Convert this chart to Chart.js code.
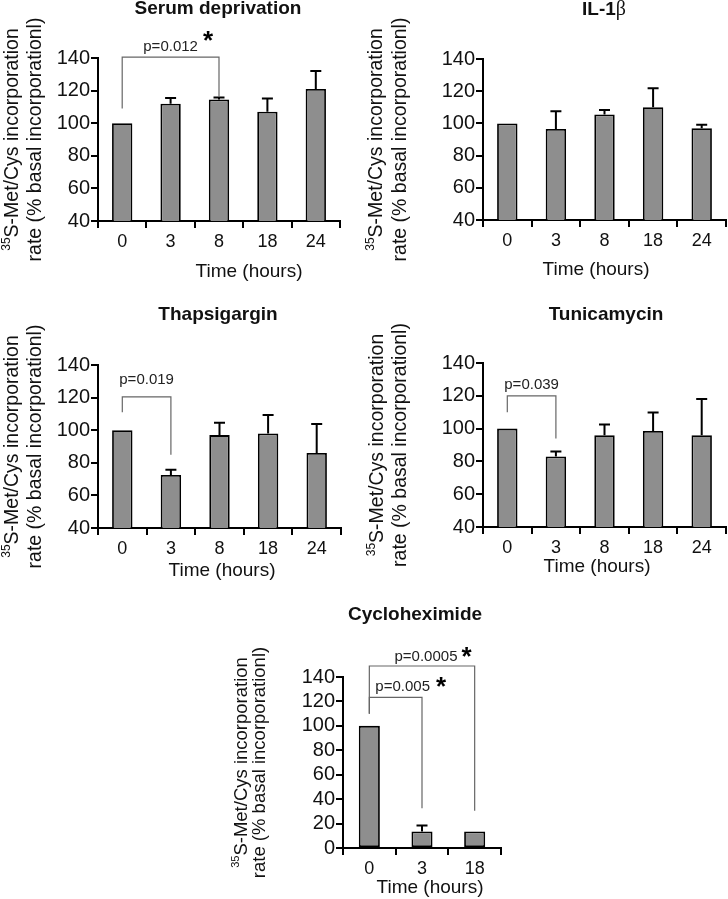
<!DOCTYPE html>
<html>
<head>
<meta charset="utf-8">
<script src="https://cdn.jsdelivr.net/npm/chart.js@4.4.0/dist/chart.umd.min.js"></script>
<style>
  body { margin: 0; background: #fff; }
  #wrap { position: relative; width: 728px; height: 899px; }
  canvas { position: absolute; }
</style>
</head>
<body>
<div id="wrap">
  <canvas id="c1" width="364" height="290" style="left:0px;top:0px"></canvas>
  <canvas id="c2" width="364" height="290" style="left:364px;top:0px"></canvas>
  <canvas id="c3" width="364" height="300" style="left:0px;top:290px"></canvas>
  <canvas id="c4" width="364" height="300" style="left:364px;top:290px"></canvas>
  <canvas id="c5" width="380" height="309" style="left:180px;top:590px"></canvas>
</div>
<script>
// time points (hours)
const hours = ['0', '3', '8', '18', '24'];
const hoursCyclo = ['0', '3', '18'];

// mean incorporation rate (% basal) and upper error (SEM)
const serumMeans = [100, 112, 114.5, 107, 121];
const serumErr = [0, 3.5, 1.2, 8.2, 11];
const il1Means = [100, 96.5, 105.5, 110, 97];
const il1Err = [0, 11, 2.8, 11.8, 2.2];
const thapsMeans = [100, 72.5, 97, 98, 86];
const thapsErr = [0, 3.3, 7.5, 11.3, 17.8];
const tunicMeans = [100, 83, 96, 98.5, 96];
const tunicErr = [0, 3, 6.5, 11.3, 22];
const cycloMeans = [100, 13.5, 13.5];
const cycloErr = [0, 5, 0];

const yTicks = [40, 60, 80, 100, 120, 140];
const yTicksCyclo = [0, 20, 40, 60, 80, 100, 120, 140];

const FONT = '"Liberation Sans", Arial, sans-serif';
const INK = '#111';

function boldTitle(t) {
  return [{ text: t, font: 'bold 19px ' + FONT }];
}

function yTitleLines(size) {
  return [
    [{ text: '35', font: Math.round(size * 0.62) + 'px ' + FONT, dy: -size * 0.3 },
     { text: 'S-Met/Cys incorporation', font: size + 'px ' + FONT }],
    [{ text: 'rate (% basal incorporationl)', font: size + 'px ' + FONT }]
  ];
}

const panels = [
  {
    id: 'c1', w: 364, h: 290, area: { l: 98, t: 58, r: 340, b: 221 },
    labels: hours, means: serumMeans, errs: serumErr, ticks: yTicks,
    title: boldTitle('Serum deprivation'), titlePos: [218, 9],
    xTitlePos: [249, 272], yTitleX: [12.5, 36], yFont: 19.5,
    brackets: [{ from: 0, to: 2, top: 140.5, fromY: 109, toY: 116, label: 'p=0.012', dx: 0, dy: 10, star: [9, -10] }]
  },
  {
    id: 'c2', w: 364, h: 290, area: { l: 119, t: 59, r: 362, b: 220 },
    labels: hours, means: il1Means, errs: il1Err, ticks: yTicks,
    title: [{ text: 'IL-1', font: 'bold 19px ' + FONT }, { text: 'β', font: '20px "Liberation Serif", serif' }],
    titlePos: [240, 10],
    xTitlePos: [232, 270], yTitleX: [13, 37], yFont: 19.5,
    brackets: []
  },
  {
    id: 'c3', w: 364, h: 300, area: { l: 98, t: 75, r: 341, b: 238 },
    labels: hours, means: thapsMeans, errs: thapsErr, ticks: yTicks,
    title: boldTitle('Thapsigargin'), titlePos: [218, 25],
    xTitlePos: [222, 281], yTitleX: [13, 36], yFont: 19.5,
    brackets: [{ from: 0, to: 1, top: 120.4, fromY: 111, toY: 85, label: 'p=0.019', dx: 0, dy: 17 }]
  },
  {
    id: 'c4', w: 364, h: 300, area: { l: 119, t: 73, r: 362, b: 237 },
    labels: hours, means: tunicMeans, errs: tunicErr, ticks: yTicks,
    title: boldTitle('Tunicamycin'), titlePos: [242, 25],
    xTitlePos: [233, 277], yTitleX: [14, 37], yFont: 19.5,
    brackets: [{ from: 0, to: 1, top: 120, fromY: 110, toY: 94, label: 'p=0.039', dx: 0, dy: 11 }]
  },
  {
    id: 'c5', w: 380, h: 309, area: { l: 163, t: 87, r: 321, b: 258 },
    labels: hoursCyclo, means: cycloMeans, errs: cycloErr, ticks: yTicksCyclo,
    title: boldTitle('Cycloheximide'), titlePos: [235, 25],
    xTitlePos: [250, 298], yTitleX: [62, 80], yFont: 18.5,
    brackets: [
      { from: 0, to: 1, top: 123.4, fromY: 110, toY: 32.5, label: 'p=0.005', dx: 7, dy: 10, star: [10, -4] },
      { from: 0, to: 2, top: 149, fromY: 110, toY: 30.5, label: 'p=0.0005', dx: 4, dy: 9, star: [8, -4] }
    ]
  }
];

// draws a row of text runs centred on (x, y)
function drawRuns(ctx, runs, x, y) {
  let total = 0;
  runs.forEach(r => { ctx.font = r.font; r.w = ctx.measureText(r.text).width; total += r.w; });
  let cx = x - total / 2;
  ctx.textAlign = 'left';
  ctx.textBaseline = 'middle';
  runs.forEach(r => {
    ctx.font = r.font;
    ctx.fillText(r.text, cx, y + (r.dy || 0));
    cx += r.w;
  });
  return total;
}

function makeOverlay(p) {
  return {
    id: 'overlay',
    afterDatasetsDraw(chart) {
      const ctx = chart.ctx;
      const ys = chart.scales.y;
      const meta = chart.getDatasetMeta(0);
      const area = chart.chartArea;

      ctx.save();
      // error bars (upper only)
      ctx.strokeStyle = '#000';
      ctx.lineWidth = 2;
      p.errs.forEach((e, i) => {
        if (!e) return;
        const bx = meta.data[i].x;
        const y0 = ys.getPixelForValue(p.means[i]);
        const y1 = ys.getPixelForValue(p.means[i] + e);
        ctx.beginPath();
        ctx.moveTo(bx, y0);
        ctx.lineTo(bx, y1);
        ctx.moveTo(bx - 5.5, y1);
        ctx.lineTo(bx + 5.5, y1);
        ctx.stroke();
      });

      // significance brackets
      p.brackets.forEach(b => {
        const x0 = meta.data[b.from].x;
        const x1 = meta.data[b.to].x;
        const yt = ys.getPixelForValue(b.top);
        ctx.strokeStyle = '#666';
        ctx.lineWidth = 1.2;
        ctx.beginPath();
        ctx.moveTo(x0, ys.getPixelForValue(b.fromY));
        ctx.lineTo(x0, yt);
        ctx.lineTo(x1, yt);
        ctx.lineTo(x1, ys.getPixelForValue(b.toY));
        ctx.stroke();
        ctx.fillStyle = '#222';
        const lx = (x0 + x1) / 2 + b.dx;
        const ly = yt - b.dy;
        const w = drawRuns(ctx, [{ text: b.label, font: '15px ' + FONT }], lx, ly);
        if (b.star) {
          ctx.font = 'bold 26px ' + FONT;
          ctx.textAlign = 'left';
          ctx.textBaseline = 'middle';
          ctx.fillStyle = '#000';
          ctx.fillText('*', lx + w / 2 + b.star[0] - 4, ly + b.star[1] + 5);
        }
      });

      // titles
      ctx.fillStyle = INK;
      drawRuns(ctx, p.title, p.titlePos[0], p.titlePos[1]);
      drawRuns(ctx, [{ text: 'Time (hours)', font: '19px ' + FONT }], p.xTitlePos[0], p.xTitlePos[1]);
      const cy = (area.top + area.bottom) / 2;
      yTitleLines(p.yFont).forEach((runs, k) => {
        ctx.save();
        ctx.translate(p.yTitleX[k], cy);
        ctx.rotate(-Math.PI / 2);
        drawRuns(ctx, runs, 0, 0);
        ctx.restore();
      });
      ctx.restore();
    }
  };
}

panels.forEach(p => {
  const axisStyle = {
    border: { display: true, color: '#000', width: 2 },
    grid: { drawOnChartArea: false, drawTicks: true, tickLength: 7, color: '#000', lineWidth: 2 }
  };
  new Chart(document.getElementById(p.id), {
    type: 'bar',
    data: {
      labels: p.labels,
      datasets: [{
        data: p.means,
        backgroundColor: '#8e8e8e',
        borderColor: '#000',
        borderWidth: 1.8,
        borderSkipped: false,
        categoryPercentage: 1,
        barPercentage: p.labels.length === 3 ? 0.4 : 0.42
      }]
    },
    options: {
      responsive: false,
      animation: false,
      layout: { padding: { left: 0, top: p.area.t, right: p.w - p.area.r, bottom: 0 } },
      plugins: { legend: { display: false }, tooltip: { enabled: false } },
      scales: {
        x: {
          type: 'category',
          offset: true,
          ...axisStyle,
          grid: { ...axisStyle.grid, offset: true },
          ticks: { color: INK, font: { family: FONT, size: 18 }, padding: 3, maxRotation: 0, autoSkip: false },
          afterFit: s => { s.height = p.h - p.area.b; }
        },
        y: {
          min: p.ticks[0],
          max: p.ticks[p.ticks.length - 1],
          ...axisStyle,
          afterBuildTicks: s => { s.ticks = p.ticks.map(v => ({ value: v })); },
          ticks: { color: INK, font: { family: FONT, size: 20 }, padding: 1, autoSkip: false },
          afterFit: s => { s.width = p.area.l; }
        }
      }
    },
    plugins: [makeOverlay(p)]
  });
});
</script>
</body>
</html>
